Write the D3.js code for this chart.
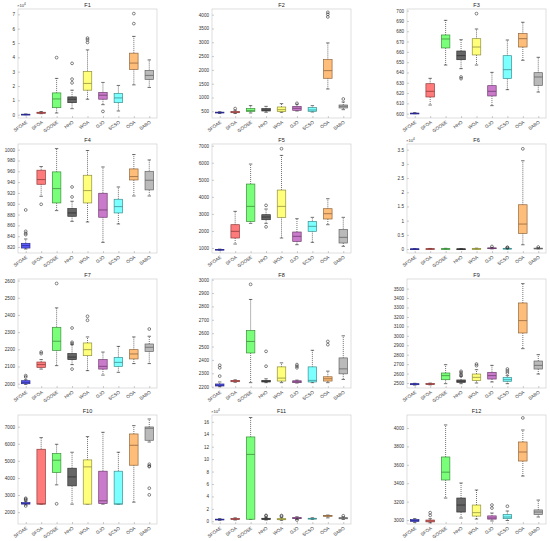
<!DOCTYPE html>
<meta charset="utf-8">
<style>
body { margin: 0; background: #fff; font-family: 'Liberation Sans', Arial, sans-serif; }
.tick text { fill: #333; }
</style>
<body>
<svg class="boxgrid"></svg>
<script src="https://d3js.org/d3.v7.min.js"></script>
<script>
// algorithms on the x axis
let categories = ['SFOAE','SFOA','GOOSE','HHO','WOA','GJO','SCSO','OOA','SABO'];
let boxColors = ['#4b4bff','#ff6b6b','#6cff6c','#555555','#ffff6e','#c46cc4','#6effff','#ffb66b','#b3b3b3'];

let titles = ['F1','F2','F3','F4','F5','F6','F7','F8','F9','F10','F11','F12'];
// exponent shown above the y axis (null = none)
let exponents = [4,null,null,null,null,4,null,null,null,null,4,null];
// y domains and tick lists per panel
let yDomains = [[-0.23,7.37],[258,4205],[595.8,701.6],[808.9,1010.5],[707,7098],[-0.14,3.7],
                [1975,2609],[2190,3005],[2447,3602],[1305,7681],[-0.44,17.1],[2957,4141]];
let yTicks = [d3.range(0,8,1), d3.range(500,4001,500), d3.range(600,701,10), d3.range(820,1001,20),
              d3.range(1000,7001,1000), d3.range(0,3.6,0.5), d3.range(2000,2601,100), d3.range(2200,3001,100),
              d3.range(2500,3501,100), d3.range(2000,7001,1000), d3.range(0,17,2), d3.range(3000,4001,200)];

// each entry: [lower whisker, q1, median, q3, upper whisker, outliers]
let f1 = [[0.0,0.01,0.02,0.03,0.05,[]],[0.07,0.10,0.13,0.17,0.22,[]],[0.12,0.49,1.10,1.52,2.53,[3.98]],
          [0.42,0.84,1.08,1.24,1.71,[2.22,2.48,3.58]],[1.08,1.71,2.18,3.02,4.52,[5.04,5.22,5.34]],
          [0.70,1.08,1.36,1.55,2.25,[0.23]],[0.26,0.84,1.17,1.48,2.04,[]],
          [2.08,3.16,3.60,4.29,5.46,[6.35,7.05]],[1.90,2.46,2.74,3.09,3.82,[]]];
let f2 = [[420,440,455,470,485,[]],[420,450,470,490,540,[600]],[440,500,524,597,705,[]],
          [464,512,548,597,680,[]],[464,488,560,657,778,[]],[512,536,609,680,760,[790]],
          [476,500,548,633,705,[]],[1309,1696,1973,2372,2976,[3918,4014,4085]],[560,621,681,729,838,[947]]];
let f3 = [[600,600.1,600.3,600.5,601,[]],[608.4,616.2,621.7,629.1,634.3,[]],[647.2,663.8,672.5,676.4,690.6,[]],
          [643.7,652.4,656.3,660.8,671.8,[634,635.6]],[647.2,657,664.7,672.8,682.2,[697.1]],
          [607.8,617.2,621.7,627.2,640.1,[]],[623.3,634,642.7,656.3,671.5,[]],
          [651.8,664.7,672.8,677.7,688.7,[]],[621,627.5,635.6,639.8,654.7,[]]];
let f4 = [[816.3,818.1,822.5,826.8,834.8,[842.8,845.3,849,888.5]],[913.8,936,944.7,962,968.8,[899]],
          [887.3,901.5,928,958.9,1002,[]],[867.5,876.8,883,891,904.6,[912.6,931]],
          [866.3,901.5,924.3,952.7,998.4,[]],[828.6,875,888.5,919.4,968,[]],[862.6,883,894.7,908.3,931,[]],
          [914.4,944,950.2,964.4,991,[]],[914.4,925.6,943.5,960,981,[]]];
let f5 = [[870,890,905,920,935,[]],[1234,1586,1977,2367,3148,[]],[2445,2562,3441,4750,5922,[]],
          [2445,2660,2816,2953,3285,[2240,3500]],[1586,2797,3441,4398,6430,[6820]],
          [1195,1390,1684,1937,2719,[]],[1332,1977,2270,2562,2797,[]],[2367,2700,3012,3305,3890,[]],
          [1098,1293,1625,2094,2797,[]]];
let f6 = [[0,0.002,0.004,0.006,0.01,[]],[0,0.003,0.006,0.01,0.02,[]],[0,0.004,0.008,0.012,0.025,[]],
          [0,0.002,0.004,0.006,0.01,[]],[0,0.004,0.008,0.014,0.03,[]],[0.005,0.015,0.025,0.04,0.06,[0.09]],
          [0,0.005,0.012,0.025,0.04,[0.05,0.06]],[0.15,0.55,0.88,1.56,3.11,[3.53]],
          [0.005,0.012,0.02,0.03,0.045,[0.07]]];
let f7 = [[1996,2000,2008,2017.5,2023,[2039,2047]],[2085,2095,2111,2126,2140,[2175,2184]],
          [2105,2194,2247,2328,2441,[2583]],[2111,2140,2155,2175,2227,[2085,2233,2241,2324]],
          [2076,2163,2198,2237,2272,[2369,2392]],[2050,2085,2101,2140,2184,[]],[2066,2101,2124,2153,2217,[]],
          [2117,2144,2173,2198,2272,[]],[2117,2188,2212,2231,2276,[2318]]];
let f8 = [[2200,2205,2210,2220,2235,[2279,2341,2360]],[2233,2237,2242,2247,2251,[]],
          [2230,2452,2538,2620,2852,[2965]],[2230,2235,2240,2247,2259,[2353,2464]],
          [2230,2242,2264,2348,2378,[]],[2227,2230,2237,2244,2249,[2341,2353,2365]],
          [2230,2235,2247,2348,2472,[]],[2230,2242,2259,2274,2316,[2514,2538]],[2254,2296,2333,2415,2580,[]]];
let f9 = [[2478,2482,2487,2493,2497,[]],[2480,2484,2489,2494,2499,[]],[2493,2535,2578,2606,2694,[]],
          [2493,2507,2518,2532,2571,[2578,2590,2610,2624]],[2500,2525,2560,2595,2641,[2684,2701]],
          [2511,2542,2578,2613,2687,[]],[2493,2518,2535,2560,2578,[2606,2627,2648]],
          [2864,3030,3161,3348,3553,[]],[2595,2648,2687,2733,2800,[]]];
let f10 = [[2420,2470,2500,2560,2640,[2360,2700,2760,2810]],[2467,2467,2486,5677,6358,[]],
           [3595,4315,5035,5424,5969,[2486]],[2467,3537,4062,4568,5502,[]],[2467,2467,4646,5054,6416,[]],
           [2467,2500,2660,4393,6669,[]],[2467,2467,2480,4393,5502,[]],[2584,4743,5910,6572,7058,[]],
           [6100,6202,6903,6981,7447,[3010,3400,4660,4700,4800]]];
let f11 = [[0.15,0.22,0.28,0.34,0.42,[]],[0.2,0.3,0.36,0.44,0.55,[]],[0.3,0.33,10.76,13.57,16.7,[]],
           [0.2,0.3,0.38,0.48,0.6,[0.85,0.95]],[0.15,0.25,0.32,0.42,0.55,[0.8,0.92]],
           [0.3,0.42,0.5,0.6,0.72,[0.2]],[0.3,0.36,0.42,0.48,0.56,[]],[0.55,0.8,0.88,0.95,1.0,[]],
           [0.3,0.4,0.48,0.58,0.7,[0.88]]];
let f12 = [[2975,2985,2995,3005,3015,[]],[2970,2980,2990,3000,3015,[3050,3080]],[3239,3435,3520,3685,4033,[]],
           [3022,3087,3163,3239,3402,[]],[3011,3043,3080,3163,3326,[]],[2990,3010,3022,3045,3076,[3130,3163]],
           [2995,3015,3033,3060,3098,[3150]],[3478,3641,3739,3848,3978,[4109]],[3033,3060,3087,3110,3217,[]]];

let panels = [f1,f2,f3,f4,f5,f6,f7,f8,f9,f10,f11,f12];

// layout
let rwidth = 550, rheight = 541;
let colX = [18, 212, 407], rowY = [9, 144, 279, 415];
let pw = 139, ph = 109;
let boxW = 0.55;

let svg = d3.select('.boxgrid').attr('width', rwidth).attr('height', rheight);

let xscale = d3.scaleLinear().domain([0.5, 9.5]).range([0, pw]);

panels.forEach((data, p) => {
    let g = svg.append('g')
        .attr('transform', `translate(${colX[p % 3]},${rowY[Math.floor(p / 3)]})`);

    let yscale = d3.scaleLinear().domain(yDomains[p]).range([ph, 0]);

    // plot background + frame
    g.append('rect').attr('width', pw).attr('height', ph)
        .attr('fill', '#fff').attr('stroke', '#c8c8c8').attr('stroke-width', 0.6);

    // y axis
    let yaxis = g.append('g')
        .call(d3.axisLeft(yscale).tickValues(yTicks[p]).tickSize(-2).tickPadding(3)
              .tickFormat(d3.format('~g')));
    yaxis.select('.domain').remove();
    yaxis.selectAll('line').attr('stroke', '#999').attr('stroke-width', 0.5);
    yaxis.selectAll('text').style('font-size', '4.6px');

    // x axis
    let xaxis = g.append('g').attr('transform', `translate(0,${ph})`)
        .call(d3.axisBottom(xscale).tickValues(d3.range(1, 10)).tickSize(-2).tickFormat(''));
    xaxis.select('.domain').remove();
    xaxis.selectAll('line').attr('stroke', '#999').attr('stroke-width', 0.5);

    g.selectAll('.xlab')
        .data(categories)
        .join('text')
        .attr('class', 'xlab')
        .attr('transform', (d, i) => `translate(${xscale(i + 1) + 2},${ph + 5}) rotate(-35)`)
        .style('text-anchor', 'end')
        .style('font-size', '4.6px')
        .style('fill', '#333')
        .text(d => d);

    // title
    g.append('text')
        .attr('x', pw / 2).attr('y', -2.5)
        .style('text-anchor', 'middle')
        .style('font-size', '5.5px')
        .style('fill', '#222')
        .text(titles[p]);

    if (exponents[p] !== null) {
        let ex = g.append('text').attr('x', -1).attr('y', -2).style('font-size', '4.2px').style('fill', '#333');
        ex.append('tspan').text('×10');
        ex.append('tspan').attr('dy', -1.8).style('font-size', '3.2px').text(exponents[p]);
    }

    let cw = xscale(boxW) - xscale(0);

    data.forEach((b, i) => {
        let cx = xscale(i + 1);
        let col = boxColors[i];
        let dark = d3.color(col).darker(1.6);
        let [lo, q1, med, q3, hi, outs] = b;

        // whiskers (dotted)
        g.append('line').attr('x1', cx).attr('x2', cx).attr('y1', yscale(q3)).attr('y2', yscale(hi))
            .attr('stroke', '#111').attr('stroke-width', 0.6).attr('stroke-dasharray', '1,1');
        g.append('line').attr('x1', cx).attr('x2', cx).attr('y1', yscale(q1)).attr('y2', yscale(lo))
            .attr('stroke', '#111').attr('stroke-width', 0.6).attr('stroke-dasharray', '1,1');
        // caps
        [lo, hi].forEach(v => {
            g.append('line').attr('x1', cx - cw * 0.2).attr('x2', cx + cw * 0.2)
                .attr('y1', yscale(v)).attr('y2', yscale(v))
                .attr('stroke', '#111').attr('stroke-width', 0.6);
        });

        // box
        g.append('rect')
            .attr('x', cx - cw / 2).attr('width', cw)
            .attr('y', yscale(q3)).attr('height', Math.max(0.8, yscale(q1) - yscale(q3)))
            .attr('fill', col).attr('fill-opacity', 0.9)
            .attr('stroke', dark).attr('stroke-width', 0.7);

        // median
        g.append('line').attr('x1', cx - cw / 2).attr('x2', cx + cw / 2)
            .attr('y1', yscale(med)).attr('y2', yscale(med))
            .attr('stroke', dark).attr('stroke-width', 0.8);

        // outliers
        g.selectAll(null)
            .data(outs)
            .join('circle')
            .attr('cx', cx).attr('cy', v => yscale(v)).attr('r', 1.4)
            .attr('fill', 'none').attr('stroke', '#222').attr('stroke-width', 0.55);
    });
});
</script>
</body>
